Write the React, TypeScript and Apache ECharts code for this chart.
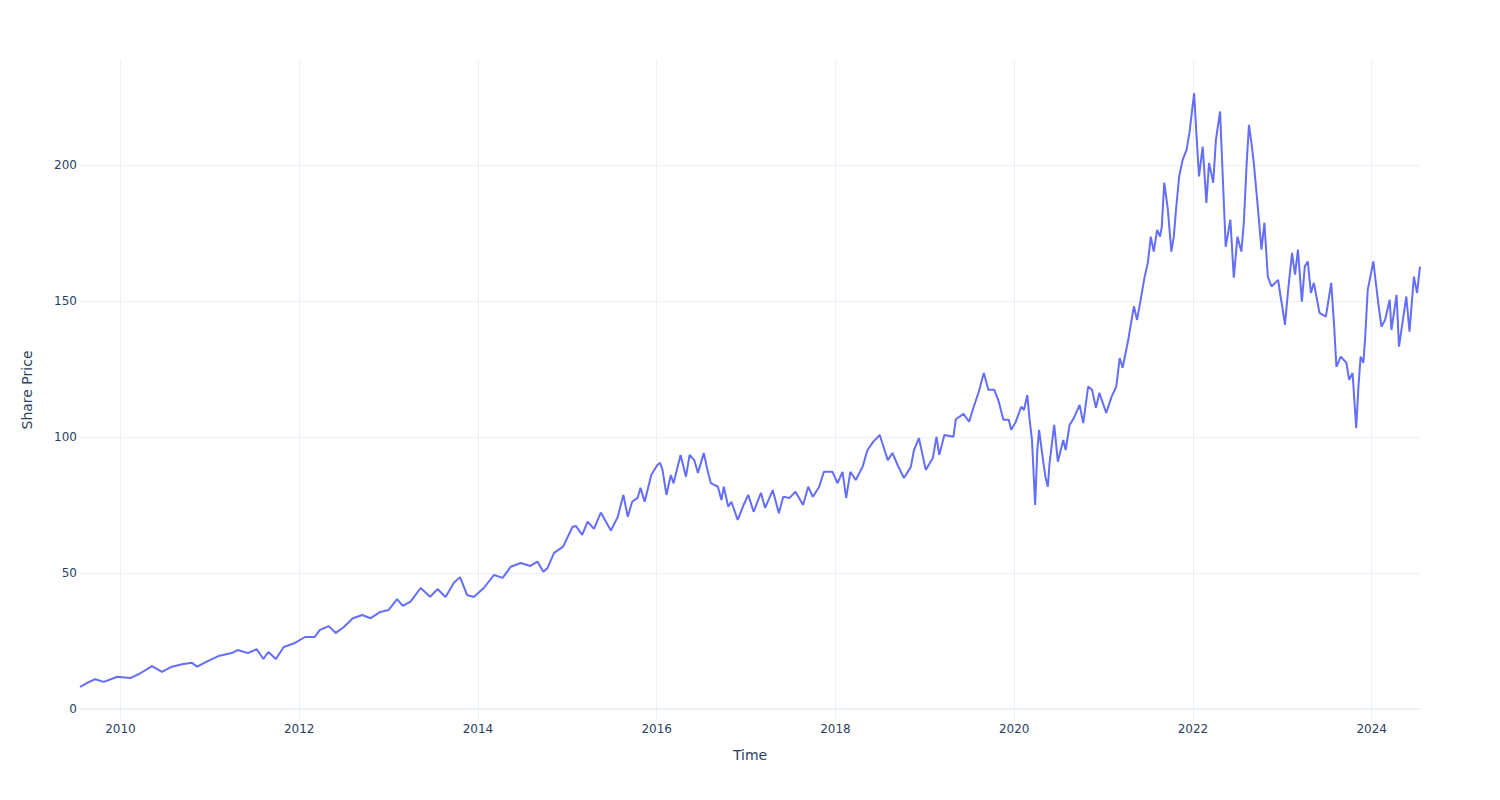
import React, { useEffect, useRef } from "react";
import * as echarts from "echarts";

const dates: string[] = [
  "2009-07-20", "2009-08-15", "2009-09-20", "2009-10-25", "2009-12-20",
  "2010-02-10", "2010-03-20", "2010-05-10", "2010-06-20", "2010-07-30", "2010-09-10", "2010-10-20", "2010-11-10",
  "2011-01-01", "2011-02-05", "2011-04-01", "2011-04-25", "2011-06-05", "2011-07-12", "2011-08-08", "2011-08-28", "2011-09-28", "2011-10-30", "2011-12-15",
  "2012-01-25", "2012-03-05", "2012-03-25", "2012-05-01", "2012-05-30", "2012-07-01", "2012-08-08", "2012-09-15", "2012-10-20", "2012-11-28",
  "2013-01-01", "2013-02-05", "2013-02-28", "2013-04-01", "2013-05-12", "2013-06-20", "2013-07-20", "2013-08-22", "2013-09-25", "2013-10-20", "2013-11-18", "2013-12-15",
  "2014-01-25", "2014-03-08", "2014-04-12", "2014-05-15", "2014-06-25", "2014-08-03", "2014-09-01", "2014-09-25", "2014-10-12", "2014-11-08", "2014-12-15",
  "2015-01-22", "2015-02-05", "2015-03-03", "2015-03-25", "2015-04-20", "2015-05-18", "2015-06-28", "2015-07-26", "2015-08-18", "2015-09-05", "2015-09-23", "2015-10-15", "2015-10-27", "2015-11-13", "2015-12-10",
  "2016-01-04", "2016-01-15", "2016-01-25", "2016-02-10", "2016-02-28", "2016-03-10", "2016-04-08", "2016-04-30", "2016-05-15", "2016-06-03", "2016-06-18", "2016-07-12", "2016-07-27", "2016-08-10", "2016-09-08", "2016-09-22", "2016-10-02", "2016-10-20", "2016-11-02", "2016-11-28", "2016-12-22",
  "2017-01-10", "2017-02-01", "2017-03-03", "2017-03-20", "2017-04-20", "2017-05-15", "2017-06-02", "2017-06-28", "2017-07-22", "2017-08-22", "2017-09-12", "2017-10-01", "2017-10-27", "2017-11-15", "2017-12-20",
  "2018-01-10", "2018-01-30", "2018-02-14", "2018-03-03", "2018-03-25", "2018-04-22", "2018-05-12", "2018-06-05", "2018-07-01", "2018-08-03", "2018-08-22", "2018-09-12", "2018-10-08", "2018-11-05", "2018-11-18", "2018-12-08",
  "2019-01-05", "2019-02-03", "2019-02-18", "2019-03-01", "2019-03-22", "2019-04-28", "2019-05-08", "2019-06-08", "2019-07-01", "2019-07-20", "2019-08-10", "2019-08-30", "2019-09-18", "2019-10-12", "2019-10-30", "2019-11-18", "2019-12-10", "2019-12-20",
  "2020-01-08", "2020-01-30", "2020-02-10", "2020-02-24", "2020-03-03", "2020-03-14", "2020-03-27", "2020-04-05", "2020-04-12", "2020-04-30", "2020-05-08", "2020-05-18", "2020-05-25", "2020-06-13", "2020-06-28", "2020-07-20", "2020-07-30", "2020-08-15", "2020-09-02", "2020-09-25", "2020-10-10", "2020-10-30", "2020-11-15", "2020-12-01", "2020-12-15",
  "2021-01-12", "2021-02-03", "2021-02-22", "2021-03-08", "2021-03-20", "2021-04-12", "2021-05-05", "2021-05-18", "2021-06-03", "2021-06-18", "2021-07-01", "2021-07-13", "2021-07-25", "2021-08-08", "2021-08-20", "2021-08-27", "2021-09-06", "2021-09-20", "2021-10-05", "2021-10-15", "2021-10-24", "2021-11-06", "2021-11-20", "2021-12-06", "2021-12-18",
  "2022-01-06", "2022-01-15", "2022-01-26", "2022-02-10", "2022-02-25", "2022-03-08", "2022-03-25", "2022-04-05", "2022-04-22", "2022-05-08", "2022-05-15", "2022-06-03", "2022-06-17", "2022-07-02", "2022-07-18", "2022-07-28", "2022-08-08", "2022-08-18", "2022-08-30", "2022-09-08", "2022-09-24", "2022-10-08", "2022-10-20", "2022-11-03", "2022-11-18", "2022-12-15", "2022-12-25",
  "2023-01-01", "2023-01-12", "2023-01-25", "2023-02-10", "2023-02-22", "2023-03-06", "2023-03-22", "2023-04-03", "2023-04-15", "2023-04-28", "2023-05-10", "2023-06-02", "2023-06-28", "2023-07-20", "2023-08-01", "2023-08-10", "2023-08-28", "2023-09-20", "2023-10-01", "2023-10-15", "2023-10-30", "2023-11-08", "2023-11-17", "2023-11-28", "2023-12-05", "2023-12-16",
  "2024-01-08", "2024-01-15", "2024-01-30", "2024-02-10", "2024-02-25", "2024-03-15", "2024-03-22", "2024-04-12", "2024-04-22", "2024-05-08", "2024-05-22", "2024-06-04", "2024-06-22", "2024-07-05", "2024-07-17",
];

const prices: number[] = [
  8.2, 9.5, 11.0, 10.0, 11.9,
  11.4, 13.0, 15.8, 13.7, 15.6, 16.5, 17.0, 15.6,
  18.0, 19.5, 20.6, 21.7, 20.6, 22.0, 18.4, 21.0, 18.4, 22.8, 24.3,
  26.5, 26.5, 29.0, 30.5, 28.0, 30.1, 33.4, 34.6, 33.4, 35.7,
  36.4, 40.4, 37.9, 39.5, 44.5, 41.3, 44.1, 41.2, 46.4, 48.5, 41.9, 41.2,
  44.5, 49.3, 48.2, 52.3, 53.7, 52.6, 54.2, 50.5, 51.8, 57.4, 59.7,
  66.9, 67.3, 64.0, 68.9, 66.2, 72.2, 65.6, 70.6, 78.7, 70.7, 76.2, 77.6, 81.3, 76.2, 86.0,
  89.7, 90.5, 87.9, 78.7, 86.0, 83.0, 93.4, 85.4, 93.4, 91.5, 86.8, 94.1, 87.9, 83.0, 81.7, 76.8, 81.7, 74.4, 76.2, 69.5, 75.0,
  78.7, 72.5, 79.5, 73.9, 80.5, 72.0, 78.0, 77.6, 79.9, 75.0, 81.7, 78.0, 81.7, 87.2, 87.2,
  83.0, 87.2, 77.6, 87.2, 84.2, 89.0, 95.2, 98.3, 100.7, 91.5, 94.1, 89.7, 84.9, 89.0, 95.2, 99.6,
  87.9, 92.3, 100.1, 93.4, 100.7, 100.1, 106.5, 108.5, 105.6, 111.1, 116.7, 123.5, 117.3, 117.3, 113.0, 106.3, 106.3, 102.6,
  105.6, 111.1, 109.9, 115.4, 107.5, 98.9, 75.0, 95.2, 102.6, 90.4, 85.4, 81.7, 90.4, 104.4, 90.9, 98.9, 95.2, 104.4, 107.0, 111.8, 105.1, 118.5, 117.3, 110.7, 116.2,
  108.8, 114.8, 118.5, 129.0, 125.4, 135.7, 148.0, 143.0, 151.1, 158.9, 164.0, 173.6, 168.1, 176.1, 173.6, 177.3, 193.4, 184.2, 168.1, 173.6, 183.5, 195.7, 201.8, 205.5, 211.8,
  226.3, 211.8, 195.7, 206.7, 186.0, 200.7, 193.4, 209.2, 219.6, 184.7, 169.9, 179.8, 158.5, 173.6, 168.1, 178.7, 199.4, 214.7, 206.7, 199.4, 183.5, 168.8, 178.7, 158.9, 155.3, 157.7, 151.6,
  147.9, 141.2, 154.0, 167.6, 159.6, 168.8, 149.7, 162.6, 164.5, 152.9, 156.6, 145.6, 144.2, 156.6, 140.5, 125.8, 129.5, 127.2, 121.0, 123.5, 103.2, 118.5, 129.5, 127.2, 135.7, 154.0,
  164.5, 159.0, 147.9, 140.5, 143.0, 150.4, 139.3, 152.2, 133.2, 143.0, 151.6, 138.7, 158.9, 152.9, 162.6,
];

const xTickYears: number[] = [2010, 2012, 2014, 2016, 2018, 2020, 2022, 2024];
const yTickValues: number[] = [0, 50, 100, 150, 200];

function toDecimalYear(s: string): number {
  const d = new Date(s + "T00:00:00Z");
  const y = d.getUTCFullYear();
  const start = Date.UTC(y, 0, 1);
  const end = Date.UTC(y + 1, 0, 1);
  return y + (d.getTime() - start) / (end - start);
}

const FONT = "DejaVu Sans";
const TEXT = "#2a3f5f";
const GRID = "#EBF0F8";

export default function App() {
  const ref = useRef<HTMLDivElement>(null);
  useEffect(() => {
    if (!ref.current) return;
    const chart = echarts.init(ref.current, null, { renderer: "svg" });
    const xs = dates.map(toDecimalYear);
    const data = xs.map((x, i) => [x, prices[i]]);
    chart.setOption({
      animation: false,
      backgroundColor: "#ffffff",
      grid: { left: 80, right: 80, top: 60, bottom: 80, containLabel: false },
      xAxis: {
        type: "value",
        min: xs[0],
        max: xs[xs.length - 1],
        splitNumber: 7,
        name: "Time",
        nameLocation: "middle",
        nameGap: 28,
        nameTextStyle: { color: TEXT, fontSize: 14, fontFamily: FONT },
        axisLine: { show: false },
        axisTick: { show: false },
        axisLabel: {
          color: TEXT,
          fontSize: 12,
          fontFamily: FONT,
          margin: 3,
          showMinLabel: false,
          showMaxLabel: false,
          formatter: (v: number) => (xTickYears.includes(Math.round(v)) && Math.abs(v - Math.round(v)) < 1e-6 ? String(Math.round(v)) : ""),
        },
        splitLine: { show: true, showMinLine: false, showMaxLine: false, lineStyle: { color: GRID, width: 1 } },
      },
      yAxis: {
        type: "value",
        min: -4,
        max: 238.5,
        splitNumber: 5,
        name: "Share Price",
        nameLocation: "middle",
        nameGap: 46,
        nameTextStyle: { color: TEXT, fontSize: 14, fontFamily: FONT },
        axisLine: { show: false },
        axisTick: { show: false },
        axisLabel: {
          color: TEXT,
          fontSize: 12,
          fontFamily: FONT,
          margin: 3,
          showMinLabel: false,
          showMaxLabel: false,
          formatter: (v: number) => (yTickValues.includes(v) ? String(v) : ""),
        },
        splitLine: { show: true, showMinLine: false, showMaxLine: false, lineStyle: { color: GRID, width: 1 } },
      },
      series: [
        {
          type: "line",
          data,
          showSymbol: false,
          symbol: "none",
          lineStyle: { color: "#636efa", width: 2 },
          itemStyle: { color: "#636efa" },
          markLine: {
            silent: true,
            symbol: "none",
            label: { show: false },
            lineStyle: { color: GRID, width: 2, type: "solid" },
            data: [{ yAxis: 0 }],
            z: 1,
          },
        },
      ],
    });
    return () => chart.dispose();
  }, []);
  return (
    <div
      ref={ref}
      style={{ position: "fixed", left: 0, top: 0, width: 1500, height: 800, background: "#ffffff" }}
    />
  );
}
